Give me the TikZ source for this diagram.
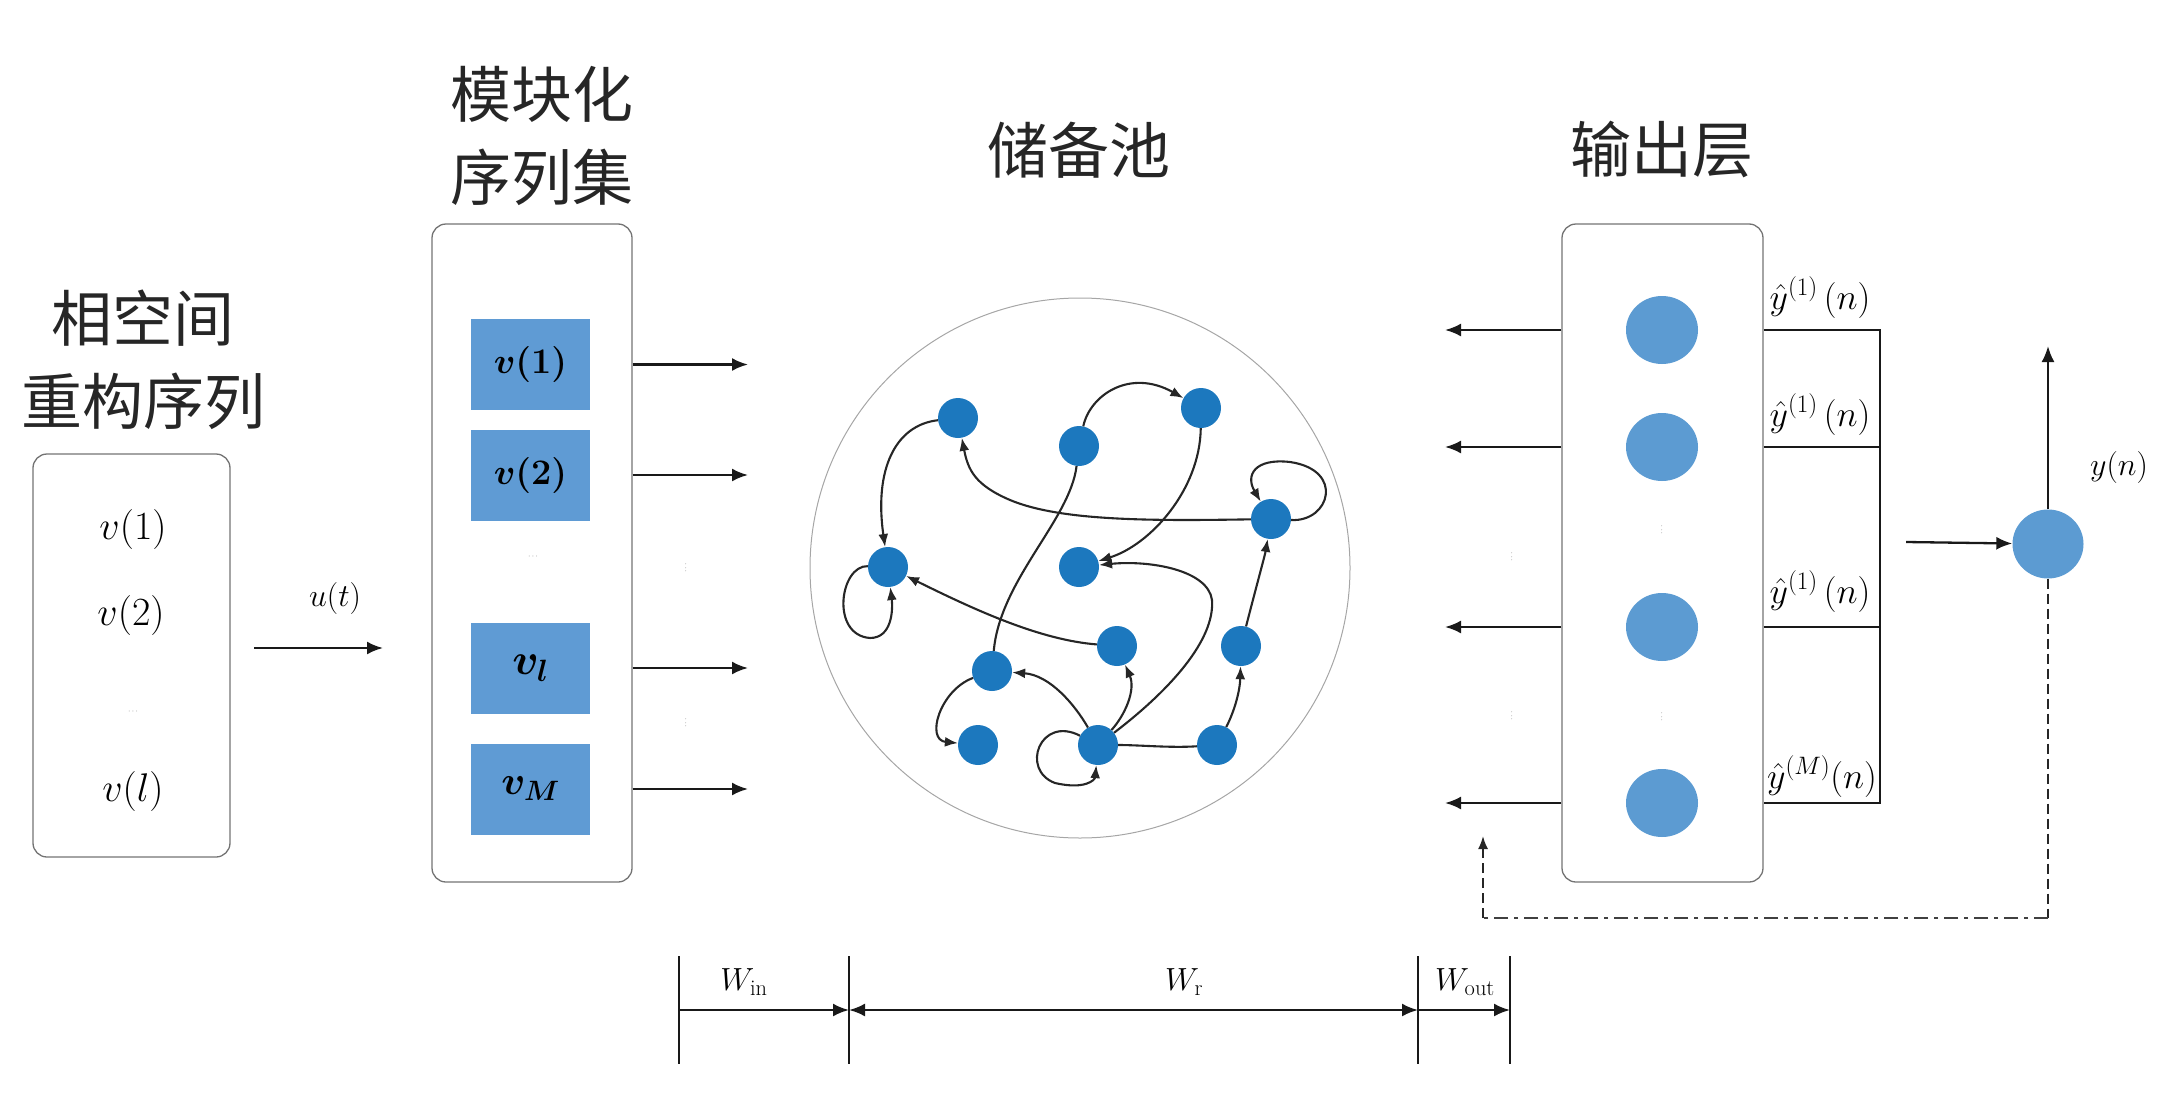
\RequirePackage{fix-cm}
\documentclass[tikz,border=0pt]{standalone}
\usepackage{fontspec}
\newfontfamily\cjk{Noto Sans CJK SC}
\usetikzlibrary{arrows.meta,shapes.geometric}
\definecolor{sqblue}{RGB}{95,155,212}
\definecolor{resblue}{RGB}{28,120,190}
\definecolor{outblue}{RGB}{92,155,210}
\begin{document}
\begin{tikzpicture}[x=1pt,y=-1pt,
  title/.style={font=\cjk\fontsize{61}{83}\selectfont, align=center, text=black!85},
  pbox/.style={draw=black!55, line width=1.3pt, rounded corners=14pt, inner sep=0pt},
  sq/.style={fill=sqblue, minimum width=119pt, minimum height=91pt, inner sep=0pt, font=\fontsize{36}{40}\selectfont\boldmath},
  rn/.style={circle, fill=resblue, minimum size=40pt, inner sep=0pt},
  on/.style={ellipse, fill=outblue, minimum width=72pt, minimum height=68pt, inner sep=0pt},
  redge/.style={line width=2.1pt, black!85, -{Latex[length=13pt,width=10pt]}},
  arr/.style={line width=2.3pt, black!90, -{Latex[length=16pt,width=13pt]}},
  mtxt/.style={font=\fontsize{40}{44}\selectfont},
  lab/.style={font=\fontsize{32}{36}\selectfont},
  ylab/.style={font=\fontsize{36}{40}\selectfont, anchor=base},
  tiny/.style={font=\fontsize{8}{9}\selectfont, text=black!60},
  fb/.style={line width=1.8pt, black!85, dash pattern=on 10pt off 5pt}
]
\useasboundingbox (0,0) rectangle (2172,1100);

% titles
\node[title] (t1) at (143,360) {相空间\\重构序列};
\node[title] (t2) at (542,136) {模块化\\序列集};
\node[title] (t3) at (1079,150) {储备池};
\node[title] (t4) at (1662,150) {输出层};

% phase-space sequence box
\node[pbox, minimum width=197pt, minimum height=403pt] (seqbox) at (131.5,655.5) {};
\node[mtxt] (s1) at (133,529) {$v(1)$};
\node[mtxt] (s2) at (131,615) {$v(2)$};
\node[tiny] (s3) at (133,712) {$\cdots$};
\node[mtxt] (s4) at (133,791) {$v(l)$};

% input arrow
\coordinate (u0) at (254,648);
\coordinate (u1) at (383,648);
\draw[arr] (u0) -- (u1);
\node[lab] (ulab) at (335,598) {$u(t)$};

% modular sequence set box
\node[pbox, minimum width=200pt, minimum height=658pt] (modbox) at (532,553) {};
\node[sq] (q1) at (530.5,364.5) {$v(1)$};
\node[sq] (q2) at (530.5,475) {$v(2)$};
\node[tiny] (qd) at (533,557) {$\cdots$};
\node[sq, font=\fontsize{44}{48}\selectfont\boldmath] (q3) at (530.5,668) {$v_{l}$};
\node[sq, font=\fontsize{40}{44}\selectfont\boldmath] (q4) at (530.5,789) {$v_{M}$};
\coordinate (m1) at (748,364.5);
\coordinate (m2) at (748,475);
\coordinate (m3) at (748,668);
\coordinate (m4) at (748,789);
\draw[arr] (q1 -| modbox.east) -- (m1);
\draw[arr] (q2 -| modbox.east) -- (m2);
\draw[arr] (q3 -| modbox.east) -- (m3);
\draw[arr] (q4 -| modbox.east) -- (m4);
\node[tiny, rotate=90] (md1) at (686,568) {$\cdots$};
\node[tiny, rotate=90] (md2) at (686,723) {$\cdots$};

% reservoir
\node[circle, draw=black!35, line width=1pt, minimum size=540pt, inner sep=0pt] (res) at (1080,568) {};
\node[rn] (A) at (958,418) {};
\node[rn] (B) at (1079,446) {};
\node[rn] (C) at (1201,408) {};
\node[rn] (D) at (888,567) {};
\node[rn] (E) at (1079,567) {};
\node[rn] (F) at (1271,519) {};
\node[rn] (G) at (1117,646) {};
\node[rn] (H) at (992,671) {};
\node[rn] (I) at (1241,646) {};
\node[rn] (J) at (978,745) {};
\node[rn] (K) at (1098,745) {};
\node[rn] (L) at (1217,745) {};

\draw[redge] (B) .. controls (1090,395) and (1130,368) .. (C);
\draw[redge] (A) .. controls (895,425) and (874,470) .. (D);
\draw[redge] (F) .. controls (1150,521) and (1060,521) .. (1010,500) .. controls (975,485) and (968,470) .. (A);
\draw[redge] (C) .. controls (1200,490) and (1150,545) .. (E);
\draw[redge,-] (B) .. controls (1070,520) and (1000,580) .. (H);
\draw[redge] (G) .. controls (1040,640) and (975,610) .. (D);
\draw[redge] (D) .. controls (840,565) and (830,635) .. (870,638) .. controls (892,638) and (893,610) .. (D);
\draw[redge] (F) .. controls (1330,522) and (1345,470) .. (1290,462) .. controls (1255,458) and (1245,475) .. (F);
\draw[redge] (I) .. controls (1258,580) and (1265,555) .. (F);
\draw[redge] (L) .. controls (1235,710) and (1240,690) .. (I);
\draw[redge] (K) .. controls (1125,715) and (1136,690) .. (G);
\draw[redge] (K) .. controls (1075,705) and (1050,675) .. (H);
\draw[redge] (H) .. controls (940,690) and (925,740) .. (J);
\draw[redge] (K) .. controls (1040,715) and (1020,770) .. (1055,783) .. controls (1085,790) and (1095,780) .. (K);
\draw[redge,-] (K) .. controls (1140,745) and (1170,748) .. (L);
\draw[redge] (K) .. controls (1170,690) and (1215,640) .. (1212,600) .. controls (1208,570) and (1150,560) .. (E);

% output layer box
\node[pbox, minimum width=201pt, minimum height=658pt] (outbox) at (1662.5,553) {};
\node[on] (o1) at (1662,330) {};
\node[on] (o2) at (1662,447) {};
\node[on] (o3) at (1662,627) {};
\node[on] (o4) at (1662,803) {};
\node[tiny, rotate=90] (od1) at (1662,530) {$\cdots$};
\node[tiny, rotate=90] (od2) at (1662,717) {$\cdots$};
\coordinate (w1) at (1445,330);
\coordinate (w2) at (1445,447);
\coordinate (w3) at (1445,627);
\coordinate (w4) at (1445,803);
\draw[arr] (o1 -| outbox.west) -- (w1);
\draw[arr] (o2 -| outbox.west) -- (w2);
\draw[arr] (o3 -| outbox.west) -- (w3);
\draw[arr] (o4 -| outbox.west) -- (w4);
\node[tiny, rotate=90] (wd1) at (1512,557) {$\cdots$};
\node[tiny, rotate=90] (wd2) at (1512,716) {$\cdots$};

% right-hand lines and labels
\coordinate (r1) at (1880,330);
\coordinate (r2) at (1880,447);
\coordinate (r3) at (1880,627);
\coordinate (r4) at (1880,803);
\draw[line width=2.6pt, black!90] (o1 -| outbox.east) -- (r1) -- (r4) -- (o4 -| outbox.east);
\draw[line width=2.6pt, black!90] (o2 -| outbox.east) -- (r2);
\draw[line width=2.6pt, black!90] (o3 -| outbox.east) -- (r3);
\node[ylab] (y1) at (1820,309) {$\hat{y}^{(1)}\,(n)$};
\node[ylab] (y2) at (1820,426) {$\hat{y}^{(1)}\,(n)$};
\node[ylab] (y3) at (1820,603) {$\hat{y}^{(1)}\,(n)$};
\node[ylab] (y4) at (1822,788) {$\hat{y}^{(M)}(n)$};

% final output node
\node[ellipse, fill=outblue, minimum width=71pt, minimum height=69pt, inner sep=0pt] (yout) at (2048,544) {};
\coordinate (ya) at (1906,542);
\draw[arr] (ya) -- (yout);
\coordinate (ytop) at (2048,346);
\draw[arr] (yout) -- (ytop);
\node[lab] (ylabel) at (2119,467) {$y(n)$};

% feedback path
\coordinate (fb1) at (2048,918);
\coordinate (fb2) at (1483,918);
\coordinate (fb3) at (1483,836);
\draw[fb] (yout) -- (fb1);
\draw[line width=1.4pt, black!75, dash pattern=on 14pt off 6pt on 4pt off 6pt] (fb1) -- (fb2);
\draw[fb, -{Latex[length=13pt,width=10pt]}] (fb2) -- (fb3);

% bottom dimension line
\coordinate (dA) at (679,1010);
\coordinate (dB) at (849,1010);
\coordinate (dC) at (1418,1010);
\coordinate (dD) at (1510,1010);
\foreach \p in {dA,dB,dC,dD}
  \draw[line width=1.8pt, black!90] ([yshift=54pt]\p) -- ([yshift=-54pt]\p);
\draw[arr] (dA) -- (dB);
\draw[arr, {Latex[length=16pt,width=13pt]}-{Latex[length=16pt,width=13pt]}] (dB) -- (dC);
\draw[arr] (dC) -- (dD);
\node[lab] (wl1) at (744,982) {$W_{\mathrm{in}}$};
\node[lab] (wl2) at (1184,982) {$W_{\mathrm{r}}$};
\node[lab] (wl3) at (1465,982) {$W_{\mathrm{out}}$};
\end{tikzpicture}
\end{document}
